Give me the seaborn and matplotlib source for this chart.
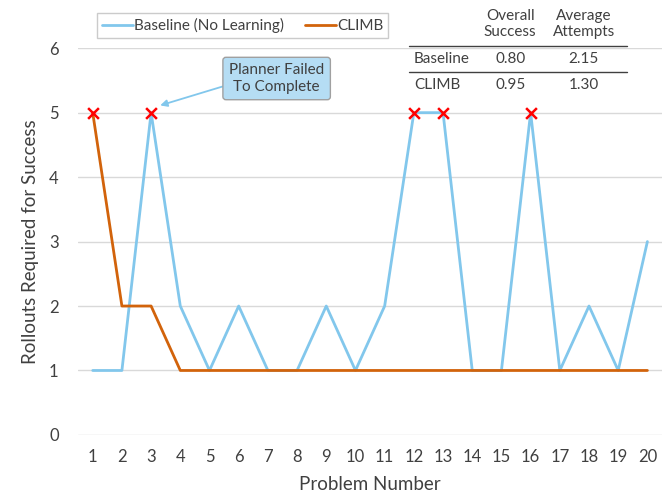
import matplotlib.pyplot as plt
import pandas as pd
import seaborn as sns

problems = list(range(1, 21))
baseline = [1, 1, 5, 2, 1, 2, 1, 1, 2, 1, 2, 5, 5, 1, 1, 5, 1, 2, 1, 3]
climb = [5, 2, 2, 1, 1, 1, 1, 1, 1, 1, 1, 1, 1, 1, 1, 1, 1, 1, 1, 1]
baseline_failed = [3, 12, 13, 16]
climb_failed = [1]

table_cols = ["Overall\nSuccess", "Average\nAttempts"]
table_rows = ["Baseline", "CLIMB"]
table_vals = [["0.80", "2.15"], ["0.95", "1.30"]]

sns.set_style("white")
plt.rcParams['font.family'] = ['Lato', 'DejaVu Sans']

df = pd.DataFrame({"problem": problems, "Baseline (No Learning)": baseline, "CLIMB": climb})
df = df.melt("problem", var_name="method", value_name="rollouts")

fig = plt.figure(figsize=(6.62, 4.92), dpi=100)
ax = fig.add_axes([0.118, 0.116, 0.882, 0.786])

sns.lineplot(data=df, x="problem", y="rollouts", hue="method", ax=ax,
             palette={"Baseline (No Learning)": "#82C7EC", "CLIMB": "#D2630B"},
             linewidth=2, zorder=3)

# failed runs
fx = baseline_failed + climb_failed
fy = [baseline[p - 1] for p in baseline_failed] + [climb[p - 1] for p in climb_failed]
ax.scatter(fx, fy, marker="x", color="#FF0000", s=60, linewidths=1.8, zorder=5)

ax.set_xlim(0.5, 20.5)
ax.set_ylim(0, 6)
ax.set_xticks(problems)
ax.set_yticks(range(7))
ax.grid(axis="y", color="#D9D9D9", linewidth=1)
ax.tick_params(length=0, labelsize=12, labelcolor="#404040", pad=10)
ax.tick_params(axis="y", pad=14)
for s in ax.spines.values():
    s.set_visible(False)
ax.set_xlabel("Problem Number", fontsize=13.5, color="#404040", labelpad=8)
ax.set_ylabel("Rollouts Required for Success", fontsize=13.5, color="#404040", labelpad=7)

leg = ax.legend(loc="upper left", bbox_to_anchor=(0.02, 1.11), ncol=2, frameon=True,
                fontsize=11, fancybox=False, edgecolor="#BFBFBF", handlelength=2.0,
                handletextpad=0.1, columnspacing=1.4, borderpad=0.3)
for t in leg.get_texts():
    t.set_color("#404040")

# annotation
ax.annotate("Planner Failed\nTo Complete", xy=(3.22, 5.1), xytext=(7.3, 5.53),
            ha="center", va="center", fontsize=11, color="#404040",
            bbox=dict(boxstyle="round,pad=0.4,rounding_size=0.2", fc="#B5DDF4", ec="#A0A0A0", lw=1),
            arrowprops=dict(arrowstyle="-|>", color="#82C7EC", lw=1.3, mutation_scale=10,
                            shrinkA=0, shrinkB=2, relpos=(0, 0.3)))

# summary table
tx_cols = [0.74, 0.866]
tx_row = 0.575
ax.text(tx_cols[0], 1.063, table_cols[0], transform=ax.transAxes, ha="center", va="center",
        fontsize=11, color="#404040", linespacing=1.15)
ax.text(tx_cols[1], 1.063, table_cols[1], transform=ax.transAxes, ha="center", va="center",
        fontsize=11, color="#404040", linespacing=1.15)
row_y = [0.972, 0.904]
for r, lab in enumerate(table_rows):
    ax.text(tx_row, row_y[r], lab, transform=ax.transAxes, ha="left", va="center",
            fontsize=11, color="#404040")
    for c in range(2):
        ax.text(tx_cols[c], row_y[r], table_vals[r][c], transform=ax.transAxes,
                ha="center", va="center", fontsize=11, color="#404040")
for yy in [1.006, 0.938]:
    ax.plot([0.567, 0.94], [yy, yy], transform=ax.transAxes, color="#404040", lw=1,
            clip_on=False, zorder=6)

fig.savefig("out.png", dpi=100)
